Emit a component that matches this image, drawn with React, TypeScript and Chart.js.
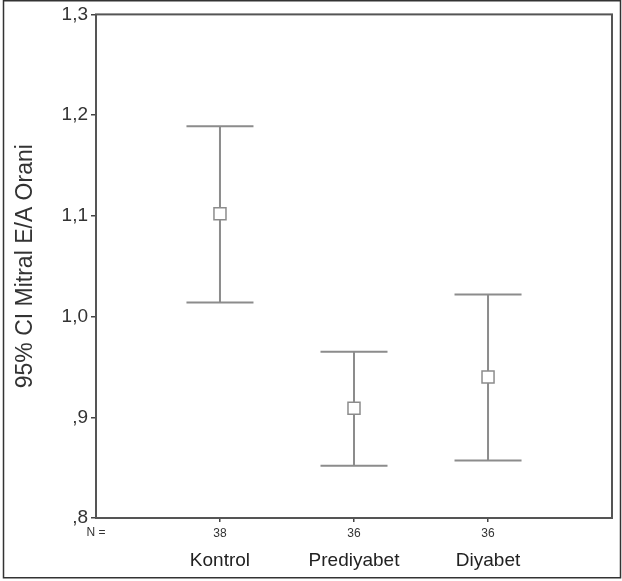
import React, { useEffect, useRef } from "react";
import { Chart, registerables } from "chart.js";

Chart.register(...registerables);

const categories = ["Kontrol", "Prediyabet", "Diyabet"];
const nLabels = ["38", "36", "36"];
const means = [1.102, 0.909, 0.94];
const upper = [1.189, 0.965, 1.022];
const lower = [1.014, 0.852, 0.857];
const yTicks = [0.8, 0.9, 1.0, 1.1, 1.2, 1.3];

const FONT = "'Liberation Sans', Arial, sans-serif";

function fmt(v: number): string {
  const r = Math.round(v * 10) / 10;
  let s = r.toFixed(1).replace(".", ",");
  if (s.startsWith("0")) s = s.slice(1);
  return s;
}

const errorBarPlugin = {
  id: "errorBars",
  beforeDatasetsDraw(chart: any) {
    const { ctx, scales } = chart;
    const xs = scales.x;
    const ys = scales.y;
    const half = (xs.getPixelForValue(2) - xs.getPixelForValue(1)) * 0.25;
    ctx.save();
    ctx.strokeStyle = "#8c8c8c";
    ctx.lineWidth = 2;
    for (let i = 0; i < categories.length; i++) {
      const x = xs.getPixelForValue(i + 1);
      const yu = ys.getPixelForValue(upper[i]);
      const yl = ys.getPixelForValue(lower[i]);
      ctx.beginPath();
      ctx.moveTo(x, yu);
      ctx.lineTo(x, yl);
      ctx.moveTo(x - half, yu);
      ctx.lineTo(x + half, yu);
      ctx.moveTo(x - half, yl);
      ctx.lineTo(x + half, yl);
      ctx.stroke();
    }
    ctx.restore();
  },
  afterDraw(chart: any) {
    const { ctx, chartArea } = chart;
    ctx.save();
    ctx.strokeStyle = "#555";
    ctx.lineWidth = 2;
    ctx.strokeRect(chartArea.left, chartArea.top, chartArea.right - chartArea.left, chartArea.bottom - chartArea.top);
    ctx.strokeStyle = "#333";
    ctx.lineWidth = 1.5;
    ctx.strokeRect(3.5, 0.75, 617, 577);
    ctx.fillStyle = "#333";
    ctx.font = "12px " + FONT;
    ctx.textAlign = "center";
    ctx.textBaseline = "middle";
    ctx.fillText("N =", chartArea.left, 533);
    ctx.restore();
  },
};

export default function App() {
  const ref = useRef<HTMLCanvasElement>(null);
  useEffect(() => {
    if (!ref.current) return;
    const chart = new Chart(ref.current, {
      type: "scatter",
      data: {
        datasets: [
          {
            data: means.map((m, i) => ({ x: i + 1, y: m })),
            pointStyle: "rect",
            pointRadius: 8.5,
            pointHoverRadius: 8.5,
            pointBackgroundColor: "#ffffff",
            pointBorderColor: "#8c8c8c",
            pointBorderWidth: 1.5,
            showLine: false,
          },
        ],
      },
      options: {
        responsive: false,
        animation: false,
        events: [],
        layout: { padding: { top: 13, right: 9, bottom: 0, left: 0 } },
        plugins: { legend: { display: false }, tooltip: { enabled: false } },
        scales: {
          x: {
            type: "linear",
            position: "bottom",
            weight: 1,
            min: 0.075,
            max: 3.925,
            afterBuildTicks: (axis: any) => {
              axis.ticks = [1, 2, 3].map((v) => ({ value: v }));
            },
            afterFit: (axis: any) => {
              axis.height = 24;
            },
            grid: { drawOnChartArea: false, tickLength: 4, color: "#444", lineWidth: 1.5 },
            border: { display: false },
            ticks: {
              padding: 4,
              color: "#333",
              font: { size: 12, family: FONT },
              maxRotation: 0,
              autoSkip: false,
              callback: (_v: any, i: number) => nLabels[i],
            },
          },
          x2: {
            type: "linear",
            axis: "x",
            position: "bottom",
            weight: 2,
            min: 0.075,
            max: 3.925,
            afterBuildTicks: (axis: any) => {
              axis.ticks = [1, 2, 3].map((v) => ({ value: v }));
            },
            afterFit: (axis: any) => {
              axis.height = 39;
            },
            grid: { display: false, drawTicks: false },
            border: { display: false },
            ticks: {
              padding: 7,
              color: "#222",
              font: { size: 19, family: FONT },
              maxRotation: 0,
              autoSkip: false,
              callback: (_v: any, i: number) => categories[i],
            },
          },
          y: {
            type: "linear",
            min: 0.8,
            max: 1.3,
            afterBuildTicks: (axis: any) => {
              axis.ticks = yTicks.map((v) => ({ value: v }));
            },
            afterFit: (axis: any) => {
              axis.width = 96;
            },
            grid: { drawOnChartArea: false, tickLength: 5, color: "#444", lineWidth: 1.5 },
            border: { display: false },
            ticks: {
              padding: 3,
              color: "#333",
              font: { size: 19, family: FONT },
              callback: (v: any) => fmt(Number(v)),
            },
            title: {
              display: true,
              text: "95% CI Mitral E/A Orani",
              color: "#333",
              font: { size: 23, family: FONT },
              padding: { top: 12, bottom: 0 },
            },
          },
        },
      } as any,
      plugins: [errorBarPlugin],
    });
    return () => chart.destroy();
  }, []);
  return (
    <div style={{ position: "absolute", left: 0, top: 0, width: 622, height: 581, background: "#fff" }}>
      <canvas ref={ref} width={622} height={581} style={{ display: "block", width: 622, height: 581 }} />
    </div>
  );
}
